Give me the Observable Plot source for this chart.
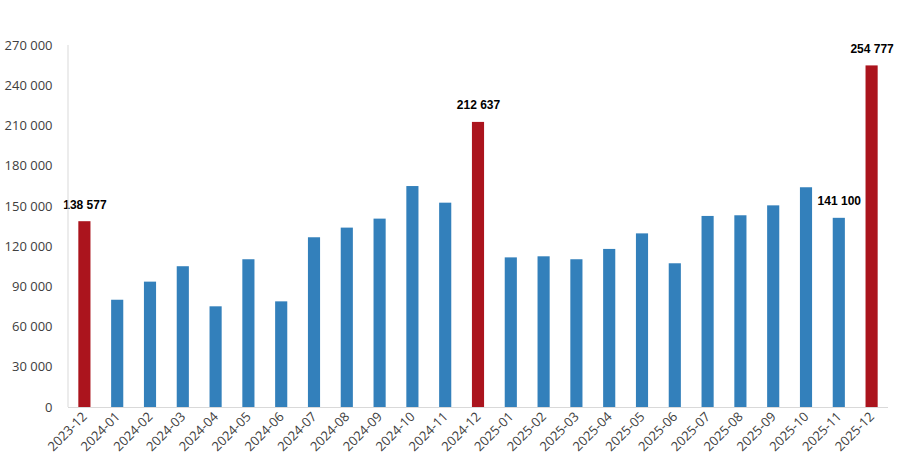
<!DOCTYPE html>
<html>
<head>
<meta charset="utf-8">
<script src="https://cdn.jsdelivr.net/npm/d3@7"></script>
<script src="https://cdn.jsdelivr.net/npm/@observablehq/plot@0.6"></script>
<style>
  html, body { margin: 0; padding: 0; background: #fff; }
  #chart svg { display: block; }
</style>
</head>
<body>
<div id="chart"></div>
<script>
const months = ["2023-12","2024-01","2024-02","2024-03","2024-04","2024-05","2024-06","2024-07","2024-08","2024-09","2024-10","2024-11","2024-12","2025-01","2025-02","2025-03","2025-04","2025-05","2025-06","2025-07","2025-08","2025-09","2025-10","2025-11","2025-12"];
const values = [138577, 80000, 93500, 105000, 75100, 110200, 78800, 126600, 133800, 140500, 164800, 152400, 212637, 111600, 112400, 110200, 117900, 129500, 107200, 142500, 143000, 150400, 163900, 141100, 254777];
const highlighted = ["2023-12","2024-12","2025-12"];
const labelled = ["2023-12","2024-12","2025-11","2025-12"];
const yTicks = [0, 30000, 60000, 90000, 120000, 150000, 180000, 210000, 240000, 270000];

const data = months.map((m, i) => ({month: m, value: values[i], hl: highlighted.includes(m)}));
const fmt = v => d3.format(",")(v).replace(/,/g, " ");

const chart = Plot.plot({
  width: 900,
  height: 470,
  marginTop: 45,
  marginBottom: 63,
  marginLeft: 68,
  marginRight: 12,
  style: {fontFamily: "'Open Sans', sans-serif", fontSize: "13px", color: "#404040", background: "#fff"},
  x: {domain: months, paddingInner: 0.63, paddingOuter: 0.315, round: false, label: null},
  y: {domain: [0, 270000], label: null},
  marks: [
    Plot.ruleY([0], {stroke: "#d9d9d9", strokeWidth: 1}),
    Plot.barY(data, {x: "month", y: "value", fill: d => d.hl ? "#ab141d" : "#3380bb"}),
    Plot.text(data.filter(d => labelled.includes(d.month)), {
      x: "month", y: "value", text: d => fmt(d.value), dy: -17,
      fontWeight: "bold", fontSize: 12, fill: "#000",
      fontFamily: "'Liberation Sans', Arial, sans-serif"
    }),
    Plot.axisY({ticks: yTicks, tickFormat: fmt, tickSize: 0, tickPadding: 16, fontSize: 13}),
    Plot.axisX({tickSize: 0, tickRotate: -45, tickPadding: 7, fontSize: 13})
  ]
});

// vertical axis line at left edge of plot
const svg = d3.select(chart);
svg.append("line")
  .attr("x1", 68).attr("x2", 68)
  .attr("y1", 45).attr("y2", 407)
  .attr("stroke", "#d9d9d9");

document.getElementById("chart").appendChild(chart);
</script>
</body>
</html>
